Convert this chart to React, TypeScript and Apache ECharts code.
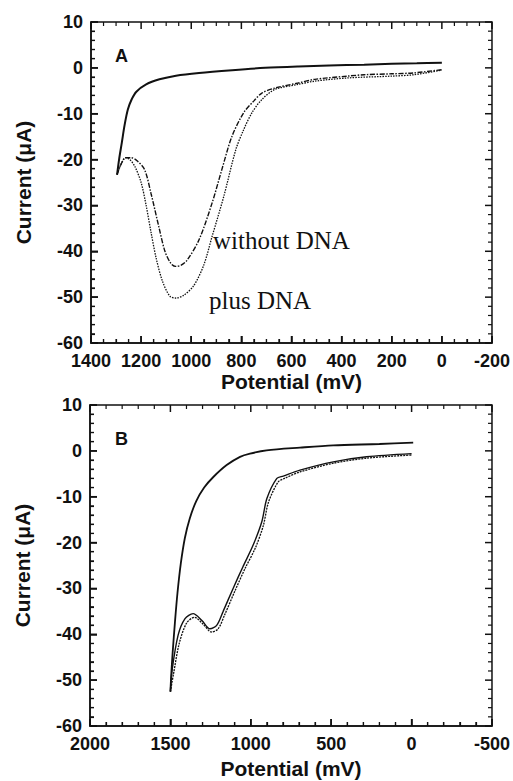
import React, { useEffect, useRef } from "react";
import * as echarts from "echarts";

// ---------- Panel A (potential in mV, current in µA) ----------
const potA_forward = [0, 100, 200, 310, 450, 573, 705, 837, 969, 1061, 1127, 1180, 1219, 1238, 1253, 1266, 1277, 1288, 1296];
const curA_forward = [1.1, 1.0, 0.9, 0.7, 0.5, 0.3, 0.0, -0.5, -1.1, -1.7, -2.5, -3.6, -5.2, -6.9, -9.1, -12.5, -16.3, -20.0, -23.3];

const potA_without = [1296, 1280, 1262, 1240, 1215, 1186, 1160, 1130, 1105, 1082, 1062, 1040, 1016, 969, 917, 878, 838, 791, 750, 718, 666, 573, 507, 376, 310, 200, 112, 0];
const curA_without = [-23.3, -21.0, -19.6, -19.6, -20.3, -22.2, -27.5, -34.5, -40.0, -42.6, -43.3, -43.0, -41.9, -37.5, -29.5, -22.2, -15.0, -9.8, -7.2, -5.5, -4.4, -3.3, -2.5, -1.8, -1.5, -1.3, -1.1, -0.4];

const potA_plus = [1296, 1280, 1262, 1245, 1225, 1200, 1180, 1160, 1140, 1115, 1085, 1060, 1030, 990, 950, 917, 870, 822, 791, 758, 718, 666, 573, 507, 376, 200, 112, 0];
const curA_plus = [-23.3, -21.0, -19.6, -20.0, -21.5, -25.0, -30.0, -36.0, -41.5, -46.5, -49.8, -50.2, -49.6, -47.5, -43.0, -36.8, -28.0, -17.8, -13.5, -9.8, -6.9, -4.7, -3.6, -2.9, -2.2, -1.8, -1.5, -0.5];

// ---------- Panel B ----------
const potB_forward = [-10, 200, 487, 694, 902, 1005, 1067, 1150, 1233, 1290, 1340, 1380, 1410, 1435, 1456, 1472, 1486, 1495, 1500];
const curB_forward = [1.8, 1.5, 1.2, 0.7, 0.1, -0.6, -1.3, -3.1, -5.7, -8.0, -11.0, -14.8, -19.0, -24.5, -31.0, -37.5, -44.0, -49.0, -52.5];

const potB_run1 = [1500, 1490, 1452, 1409, 1359, 1304, 1254, 1211, 1172, 1110, 1048, 986, 931, 900, 838, 798, 694, 487, 280, 0];
const curB_run1 = [-52.5, -48.0, -40.2, -36.6, -35.5, -37.0, -38.8, -38.0, -35.0, -30.0, -25.2, -20.6, -15.4, -10.4, -6.0, -5.5, -4.2, -2.4, -1.3, -0.6];

const potB_run2 = [1500, 1480, 1445, 1400, 1350, 1296, 1245, 1203, 1163, 1098, 1035, 972, 922, 890, 830, 790, 694, 487, 280, 0];
const curB_run2 = [-52.5, -48.5, -42.0, -37.6, -36.3, -37.8, -39.5, -38.8, -35.8, -30.5, -25.6, -21.2, -16.3, -11.2, -6.8, -6.0, -4.6, -2.7, -1.6, -0.9];

// ---------- Axis scales ----------
const yScale = { min: -60, max: 10, interval: 10, minorStep: 2 };
const xScaleA = { min: -200, max: 1400, interval: 200, minorStep: 50 };
const xScaleB = { min: -500, max: 2000, interval: 500, minorStep: 100 };

const pair = (xs: number[], ys: number[]) => xs.map((x, i) => [x, ys[i]]);

const FONT = '"Liberation Sans", Arial, sans-serif';
const INK = "#111111";

function tickList(s: { min: number; max: number; interval: number; minorStep: number }) {
  const out: number[][] = [];
  const n = Math.round((s.max - s.min) / s.minorStep);
  for (let i = 0; i <= n; i++) {
    const v = s.min + i * s.minorStep;
    const k = (v - s.min) / s.interval;
    out.push([v, Math.abs(k - Math.round(k)) < 1e-6 ? 1 : 0]);
  }
  return out;
}

function xAxisDef(grid: number, t: any, gap: number) {
  return {
    type: "value",
    gridIndex: grid,
    position: "bottom",
    inverse: true,
    min: t.min,
    max: t.max,
    interval: t.interval,
    name: "Potential (mV)",
    nameLocation: "middle",
    nameGap: gap,
    nameTextStyle: { fontFamily: FONT, fontWeight: "bold", fontSize: 21, color: INK },
    axisLine: { show: true, onZero: false, lineStyle: { color: INK, width: 1.5 } },
    axisTick: { show: true, inside: true, length: 7, lineStyle: { color: INK, width: 1.5 } },
    minorTick: { show: true, splitNumber: Math.round(t.interval / t.minorStep), length: 4, lineStyle: { color: INK, width: 1.2 } },
    axisLabel: { margin: 9, fontFamily: FONT, fontWeight: "bold", fontSize: 18, color: INK, formatter: (v: number) => String(v) },
    splitLine: { show: false },
  };
}

function yAxisDef(grid: number) {
  return {
    type: "value",
    gridIndex: grid,
    position: "left",
    min: yScale.min,
    max: yScale.max,
    interval: yScale.interval,
    name: "Current (\u03bcA)",
    nameLocation: "middle",
    nameGap: 57,
    nameTextStyle: { fontFamily: FONT, fontWeight: "bold", fontSize: 21, color: INK },
    axisLine: { show: true, onZero: false, lineStyle: { color: INK, width: 1.5 } },
    axisTick: { show: true, inside: true, length: 7, lineStyle: { color: INK, width: 1.5 } },
    minorTick: { show: true, splitNumber: 5, length: 4, lineStyle: { color: INK, width: 1.2 } },
    axisLabel: { margin: 8, fontFamily: FONT, fontWeight: "bold", fontSize: 18, color: INK, formatter: (v: number) => String(v) },
    splitLine: { show: false },
  };
}

function line(name: string, data: number[][], idx: number, width: number, type: any) {
  return {
    name,
    type: "line",
    xAxisIndex: idx,
    yAxisIndex: idx,
    data,
    showSymbol: false,
    smooth: 0.3,
    lineStyle: { color: INK, width, type },
    silent: true,
  };
}

function tickSeries(idx: number, xs: any) {
  const xTicks = tickList(xs).map(([v, m]) => [v, 0, m, 0]);
  const yTicks = tickList(yScale).map(([v, m]) => [0, v, m, 1]);
  return {
    type: "custom",
    xAxisIndex: idx,
    yAxisIndex: idx,
    silent: true,
    clip: false,
    z: 5,
    data: xTicks.concat(yTicks),
    renderItem: (params: any, api: any) => {
      const cs = params.coordSys;
      const major = api.value(2) === 1;
      const isY = api.value(3) === 1;
      const len = major ? 7 : 4;
      const style = { stroke: INK, lineWidth: major ? 1.5 : 1.2, fill: null };
      const p = api.coord([api.value(0), api.value(1)]);
      if (!isY) {
        const x = p[0];
        const yb = cs.y + cs.height;
        const yt = cs.y;
        return {
          type: "group",
          children: [
            { type: "line", shape: { x1: x, y1: yb, x2: x, y2: yb - len }, style },
            { type: "line", shape: { x1: x, y1: yt, x2: x, y2: yt + len }, style },
          ],
        };
      }
      const y = p[1];
      const xl = cs.x;
      const xr = cs.x + cs.width;
      return {
        type: "group",
        children: [
          { type: "line", shape: { x1: xl, y1: y, x2: xl + len, y2: y }, style },
          { type: "line", shape: { x1: xr, y1: y, x2: xr - len, y2: y }, style },
        ],
      };
    },
  };
}

export default function App() {
  const ref = useRef<HTMLDivElement>(null);
  useEffect(() => {
    document.body.style.margin = "0";
    const chart = echarts.init(ref.current!, null, { renderer: "svg" });
    chart.setOption({
      animation: false,
      grid: [
        { left: 91, right: 19, top: 22, height: 321, show: true, borderColor: INK, borderWidth: 1.5 },
        { left: 90, right: 21, top: 405, height: 321, show: true, borderColor: INK, borderWidth: 1.5 },
      ],
      xAxis: [xAxisDef(0, xScaleA, 27), xAxisDef(1, xScaleB, 32)],
      yAxis: [yAxisDef(0), yAxisDef(1)],
      series: [
        tickSeries(0, xScaleA),
        tickSeries(1, xScaleB),
        line("A forward scan", pair(potA_forward, curA_forward), 0, 2, "solid"),
        line("without DNA", pair(potA_without, curA_without), 0, 1.4, [5, 1.5, 1.5, 1.5]),
        line("plus DNA", pair(potA_plus, curA_plus), 0, 1.3, [1.5, 1.2]),
        line("B forward scan", pair(potB_forward, curB_forward), 1, 1.8, "solid"),
        line("B run 1", pair(potB_run1, curB_run1), 1, 1.4, "solid"),
        line("B run 2", pair(potB_run2, curB_run2), 1, 1.3, [2, 1]),
      ],
      graphic: [
        { type: "text", x: 115, y: 47, style: { text: "A", font: `bold 18px ${FONT}`, fill: INK } },
        { type: "text", x: 115, y: 430, style: { text: "B", font: `bold 18px ${FONT}`, fill: INK } },
        {
          type: "text",
          x: 213,
          y: 240,
          style: { text: "without DNA", font: '25px "Liberation Serif", "Times New Roman", serif', fill: INK, verticalAlign: "middle" },
        },
        {
          type: "text",
          x: 209,
          y: 300,
          style: { text: "plus DNA", font: '25px "Liberation Serif", "Times New Roman", serif', fill: INK, verticalAlign: "middle" },
        },
      ],
    });
    return () => chart.dispose();
  }, []);
  return <div ref={ref} style={{ width: 513, height: 781 }} />;
}
